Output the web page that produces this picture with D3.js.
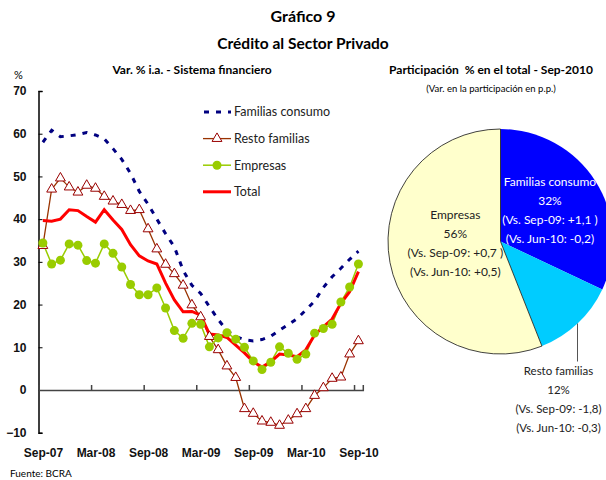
<!DOCTYPE html>
<html>
<head>
<meta charset="utf-8">
<script src="https://cdn.jsdelivr.net/npm/d3@7"></script>
<style>
  body { margin: 0; background: #fff; }
  svg { font-family: Lato, "Open Sans", sans-serif; }
</style>
</head>
<body>
<div class="main"></div>
<script>
// months Sep-07 .. Sep-10
const months = ["Sep-07","Oct-07","Nov-07","Dec-07","Jan-08","Feb-08","Mar-08","Apr-08","May-08","Jun-08","Jul-08","Aug-08",
  "Sep-08","Oct-08","Nov-08","Dec-08","Jan-09","Feb-09","Mar-09","Apr-09","May-09","Jun-09","Jul-09","Aug-09",
  "Sep-09","Oct-09","Nov-09","Dec-09","Jan-10","Feb-10","Mar-10","Apr-10","May-10","Jun-10","Jul-10","Aug-10","Sep-10"];
const tickLabels = ["Sep-07","Mar-08","Sep-08","Mar-09","Sep-09","Mar-10","Sep-10"];
const yTicks = [-10, 0, 10, 20, 30, 40, 50, 60, 70];

const familiasConsumo = [58.0,60.8,59.3,59.5,59.8,60.3,59.7,58.8,56.5,54.0,50.7,46.5,
  43.5,40.0,36.6,33.5,28.0,24.5,22.6,19.5,16.5,13.9,12.5,11.8,
  11.5,11.8,12.6,14.0,15.3,16.7,18.7,20.8,24.0,26.5,28.5,30.6,32.5];
const restoFamilias = [33.8,47.0,49.6,47.5,46.3,47.9,47.2,45.3,44.2,43.4,42.0,42.2,
  37.7,33.0,29.4,27.2,24.5,19.9,17.1,12.5,9.4,5.6,2.9,-4.4,
  -5.5,-7.3,-7.6,-8.3,-7.1,-5.6,-4.4,-1.3,0.5,2.7,3.0,8.4,11.5];
const empresas = [34.4,29.5,30.4,34.2,33.9,30.3,29.7,34.2,32.0,28.8,24.7,22.3,
  22.3,23.9,19.2,13.9,12.1,15.6,15.4,10.1,12.2,13.4,11.9,10.0,
  6.8,4.8,6.5,10.1,8.6,7.2,8.4,13.3,14.4,15.4,20.6,24.1,29.5];
const total = [39.7,39.5,40.0,42.2,42.0,40.6,39.3,42.2,39.8,37.6,34.0,31.4,
  30.2,29.5,25.0,21.1,18.3,18.4,17.5,13.1,12.9,12.3,10.5,8.7,
  6.6,5.4,6.6,8.4,8.2,7.8,9.4,12.9,14.8,16.6,20.3,23.0,27.7];

const seriesNames = ["Familias consumo", "Resto familias", "Empresas", "Total"];

const pieLabels = ["Familias consumo", "Resto familias", "Empresas"];
const pieShares = [32, 12, 56];
const pieVsSep09 = ["+1,1 ", "-1,8", "+0,7 "];
const pieVsJun10 = ["-0,2", "-0,3", "+0,5"];

const W = 606, H = 480;
const svg = d3.select(".main").append("svg")
  .attr("width", W).attr("height", H);

// titles
svg.append("text").attr("x", 303).attr("y", 22).attr("text-anchor", "middle")
  .style("font-weight", "bold").style("font-size", "16px").text("Gráfico 9");
svg.append("text").attr("x", 303).attr("y", 49).attr("text-anchor", "middle")
  .style("font-weight", "bold").style("font-size", "15.5px").text("Crédito al Sector Privado");
svg.append("text").attr("x", 192).attr("y", 74).attr("text-anchor", "middle")
  .style("font-weight", "bold").style("font-size", "12px").text("Var. % i.a. - Sistema financiero");
svg.append("text").attr("x", 491).attr("y", 74).attr("text-anchor", "middle")
  .style("font-weight", "bold").style("font-size", "12px").text("Participación  % en el total - Sep-2010")
  .attr("xml:space", "preserve");
svg.append("text").attr("x", 491).attr("y", 92).attr("text-anchor", "middle")
  .style("font-size", "9.5px").text("(Var. en la participación en p.p.)");
svg.append("text").attr("x", 14).attr("y", 79)
  .style("font-size", "11px").text("%");
svg.append("text").attr("x", 10).attr("y", 477)
  .style("font-size", "10px").text("Fuente: BCRA");

// line chart
const x = d3.scaleLinear().domain([-0.5, months.length - 0.5]).range([38.5, 362.8]);
const y = d3.scaleLinear().domain([-10, 70]).range([432.7, 91]);

const yAxis = svg.append("g")
  .attr("transform", `translate(${x(-0.5)},0)`)
  .call(d3.axisLeft(y).tickValues(yTicks).tickSize(-4).tickPadding(12).tickFormat(d3.format("d")));
yAxis.select(".domain").attr("stroke", "#000").attr("stroke-width", 1.5);
yAxis.selectAll("text").style("font-size", "12px").style("font-weight", "bold").attr("fill", "#111");

const xZero = svg.append("g")
  .attr("transform", `translate(0,${y(0)})`)
  .call(d3.axisBottom(x)
    .tickValues(d3.range(5.5, months.length, 6))
    .tickSize(-5).tickFormat(""));
xZero.select(".domain").attr("stroke", "#444").attr("stroke-width", 1.5);
xZero.selectAll(".tick line").attr("stroke", "#444").attr("stroke-width", 1.5);

const xLab = svg.append("g")
  .attr("transform", `translate(0,${y(-10)})`)
  .call(d3.axisBottom(x)
    .tickValues(tickLabels.map(t => months.indexOf(t)))
    .tickSize(0).tickPadding(16)
    .tickFormat(i => months[i]));
xLab.select(".domain").remove();
xLab.selectAll("text").style("font-size", "12px").style("font-weight", "bold").attr("fill", "#111");

const line = d3.line().x((d, i) => x(i)).y(d => y(d));

svg.append("path").datum(familiasConsumo)
  .attr("d", line).attr("fill", "none")
  .attr("stroke", "#000080").attr("stroke-width", 3)
  .attr("stroke-dasharray", "5,7");

svg.append("path").datum(restoFamilias)
  .attr("d", line).attr("fill", "none")
  .attr("stroke", "#993300").attr("stroke-width", 1.3);

svg.append("path").datum(empresas)
  .attr("d", line).attr("fill", "none")
  .attr("stroke", "#99cc00").attr("stroke-width", 1.5);

svg.append("path").datum(total)
  .attr("d", line).attr("fill", "none")
  .attr("stroke", "#ff0000").attr("stroke-width", 3);

const tri = d3.symbol().type(d3.symbolTriangle).size(42);
svg.append("g").selectAll("path")
  .data(restoFamilias).enter().append("path")
  .attr("d", tri)
  .attr("transform", (d, i) => `translate(${x(i)},${y(d)})`)
  .attr("fill", "#fff").attr("stroke", "#990000").attr("stroke-width", 1);

svg.append("g").selectAll("circle")
  .data(empresas).enter().append("circle")
  .attr("cx", (d, i) => x(i)).attr("cy", d => y(d))
  .attr("r", 4.5).attr("fill", "#99cc00");

// legend
const legendStyles = [
  {stroke: "#000080", width: 3, dash: "5,7", marker: null},
  {stroke: "#993300", width: 1.3, dash: null, marker: "tri"},
  {stroke: "#99cc00", width: 1.5, dash: null, marker: "circle"},
  {stroke: "#ff0000", width: 3, dash: null, marker: null}
];
const legend = svg.append("g").selectAll("g")
  .data(seriesNames).enter().append("g")
  .attr("transform", (d, i) => `translate(203,${112 + i * 26.6})`);
legend.append("line")
  .attr("x1", (d, i) => i === 0 ? 1 : 0).attr("x2", 28)
  .attr("stroke", (d, i) => legendStyles[i].stroke)
  .attr("stroke-width", (d, i) => legendStyles[i].width)
  .attr("stroke-dasharray", (d, i) => legendStyles[i].dash);
legend.filter((d, i) => legendStyles[i].marker === "tri").append("path")
  .attr("d", tri).attr("transform", "translate(14,0)")
  .attr("fill", "#fff").attr("stroke", "#990000");
legend.filter((d, i) => legendStyles[i].marker === "circle").append("circle")
  .attr("cx", 14).attr("r", 4.5).attr("fill", "#99cc00");
legend.append("text")
  .attr("x", 31).attr("dy", "0.35em")
  .style("font-size", "12.5px").attr("fill", "#222")
  .text(d => d);

// pie
const cx = 500.5, cy = 241.5, R = 112.5;
const pieColors = ["#0000ff", "#00ccff", "#ffffcc"];
const pie = d3.pie().sort(null).value(d => d);
const arcs = pie(pieShares);
const arc = d3.arc().innerRadius(0).outerRadius(R);
const pg = svg.append("g").attr("transform", `translate(${cx},${cy})`);
pg.selectAll("path").data(arcs).enter().append("path")
  .attr("d", arc)
  .attr("fill", (d, i) => pieColors[i])
  .attr("stroke", (d, i) => i === 2 ? "#111" : "none")
  .attr("stroke-width", 0.8);

function labelLines(i) {
  return [pieLabels[i], pieShares[i] + "%",
    "(Vs. Sep-09: " + pieVsSep09[i] + ")", "(Vs. Jun-10: " + pieVsJun10[i] + ")"];
}
const mid = d => (d.startAngle + d.endAngle) / 2;

// inside labels: Familias consumo and Empresas
const insideRadius = [58.6, null, 46];
const insideDy = [0, null, -7];
[0, 2].forEach(i => {
  const a = mid(arcs[i]);
  const lx = insideRadius[i] * Math.sin(a);
  const ly = -insideRadius[i] * Math.cos(a) + insideDy[i];
  const t = pg.append("text")
    .attr("text-anchor", "middle")
    .attr("xml:space", "preserve")
    .style("font-size", "12px")
    .attr("fill", i === 0 ? "#fff" : "#222");
  labelLines(i).forEach((s, k) => {
    t.append("tspan").attr("x", lx).attr("y", ly - 28.5 + k * 19 + 4).text(s);
  });
});

// outside label: Resto familias with leader line
{
  const a = mid(arcs[1]);
  const ex = R * Math.sin(a), ey = -R * Math.cos(a);
  pg.append("line")
    .attr("x1", ex).attr("y1", ey).attr("x2", ex).attr("y2", ey + 38)
    .attr("stroke", "#555").attr("stroke-width", 1);
  const t = pg.append("text")
    .attr("text-anchor", "middle")
    .style("font-size", "11.5px").attr("fill", "#222");
  labelLines(1).forEach((s, k) => {
    t.append("tspan").attr("x", ex - 19).attr("y", ey + 51 + k * 19).text(s);
  });
}
</script>
</body>
</html>
